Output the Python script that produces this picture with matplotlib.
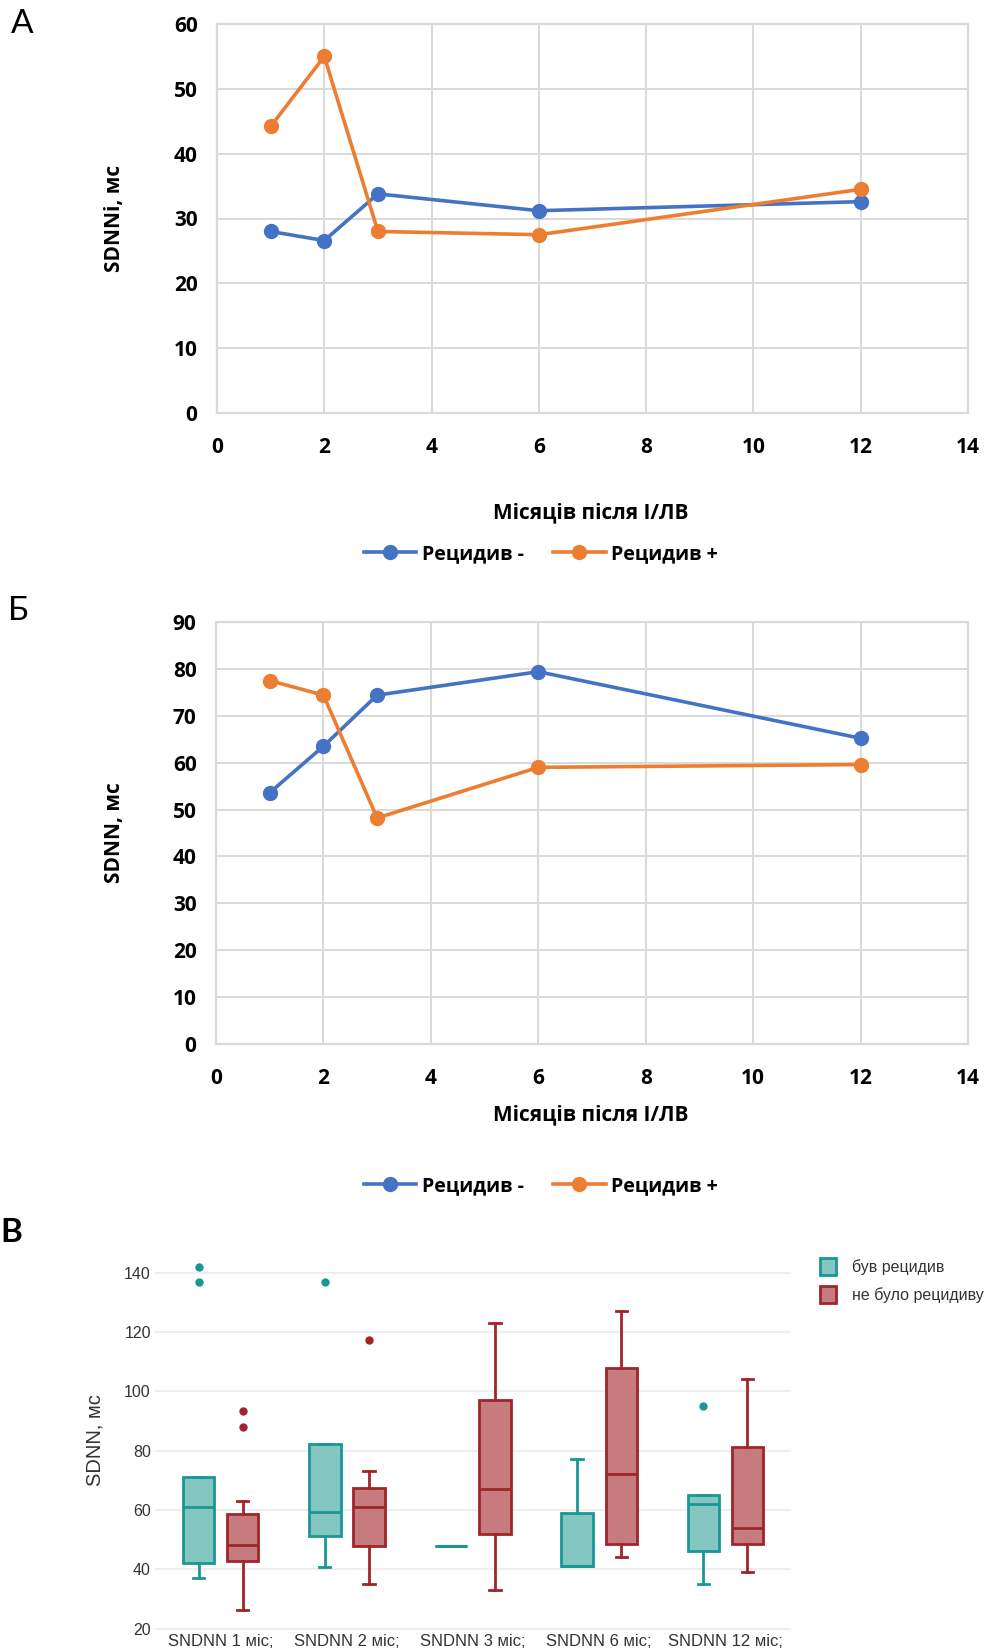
import matplotlib
matplotlib.use('Agg')
import matplotlib.pyplot as plt
from matplotlib.patches import Patch

# ---------------- data ----------------
months = [1, 2, 3, 6, 12]
sdnni_neg = [28.0, 26.6, 33.8, 31.2, 32.6]
sdnni_pos = [44.2, 55.0, 28.0, 27.5, 34.5]
sdnn_neg = [53.6, 63.5, 74.4, 79.4, 65.2]
sdnn_pos = [77.5, 74.4, 48.2, 59.0, 59.6]
series_labels = ['Рецидив -', 'Рецидив +']

box_categories = ['SNDNN 1 міс;', 'SNDNN 2 міс;', 'SNDNN 3 міс;', 'SNDNN 6 міс;', 'SNDNN 12 міс;']
box_groups = ['був рецидив', 'не було рецидиву']
relapse_whislo = [37.0, 40.9, 48.0, 41.0, 35.1]
relapse_q1 = [42.0, 51.3, 48.0, 41.0, 46.1]
relapse_med = [61.0, 59.4, 48.0, 41.2, 62.1]
relapse_q3 = [71.0, 82.2, 48.0, 59.0, 65.1]
relapse_whishi = [71.0, 82.2, 48.0, 77.1, 65.1]
relapse_fliers = [[142.0, 137.0], [137.0], [], [], [94.9]]
norelapse_whislo = [26.1, 35.0, 33.0, 44.0, 39.1]
norelapse_q1 = [42.8, 48.0, 51.9, 48.4, 48.5]
norelapse_med = [48.2, 61.0, 67.2, 72.0, 54.0]
norelapse_q3 = [58.5, 67.5, 97.0, 107.8, 81.1]
norelapse_whishi = [63.0, 73.0, 122.9, 127.1, 104.1]
norelapse_fliers = [[93.5, 87.9], [117.2], [], [], []]

# ---------------- style ----------------
BLUE = '#4472C4'
ORANGE = '#ED7D31'
GRID = '#D9D9D9'
BOLD_FONT = ['Open Sans', 'DejaVu Sans']
TEAL_EDGE = '#1A9793'
TEAL_FILL = '#84C6C1'
RED_EDGE = '#A0252A'
RED_FILL = '#C67C7F'

W, H = 987, 1650
fig = plt.figure(figsize=(W / 100, H / 100), dpi=100)


def fx(px):
    return px / W


def fy(py):
    return 1 - py / H


def line_panel(rect, neg, pos, ymax, ylabel, xlabel_y, legend_y):
    ax = fig.add_axes(rect)
    ax.plot(months, neg, color=BLUE, lw=2.6, marker='o', ms=10, label=series_labels[0], zorder=3,
            clip_on=False)
    ax.plot(months, pos, color=ORANGE, lw=2.6, marker='o', ms=10, label=series_labels[1], zorder=3,
            clip_on=False)
    ax.set_xlim(0, 14)
    ax.set_ylim(0, ymax)
    ax.set_xticks(range(0, 15, 2))
    ax.set_yticks(range(0, ymax + 1, 10))
    ax.grid(True, color=GRID, lw=1.4)
    ax.set_axisbelow(True)
    for s in ax.spines.values():
        s.set_color(GRID)
        s.set_linewidth(1.6)
    ax.tick_params(length=0, labelsize=15, pad=0)
    ax.tick_params(axis='x', pad=17)
    ax.tick_params(axis='y', pad=14)
    for lab in ax.get_xticklabels() + ax.get_yticklabels():
        lab.set_fontfamily(BOLD_FONT)
        lab.set_fontweight('bold')
    l, b, w, h = rect
    fig.text(fx(115), b + h / 2, ylabel, rotation=90, ha='center', va='center',
             fontsize=15, fontweight='bold', family=BOLD_FONT)
    fig.text(fx(591), fy(xlabel_y), 'Місяців після І/ЛВ', ha='center', va='center',
             fontsize=15, fontweight='bold', family=BOLD_FONT)
    handles, labels = ax.get_legend_handles_labels()
    fig.legend(handles, labels, loc='center', bbox_to_anchor=(fx(541), fy(legend_y)), ncol=2,
               frameon=False, handlelength=2.7, handletextpad=0.3, columnspacing=1.5,
               prop=dict(family=BOLD_FONT, weight='bold', size=14))
    return ax


axA = line_panel([fx(217), fy(413), fx(968 - 217), (413 - 24) / H], sdnni_neg, sdnni_pos, 60,
                 'SDNNi, мс', 513, 554)
axB = line_panel([fx(216), fy(1044), fx(968 - 216), (1044 - 622) / H], sdnn_neg, sdnn_pos, 90,
                 'SDNN, мс', 1115, 1186)

fig.text(fx(11), fy(24), 'A', fontsize=24, ha='left', va='center', family=['Lato', 'DejaVu Sans'])
fig.text(fx(8), fy(611), 'Б', fontsize=24, ha='left', va='center', family=['Lato', 'DejaVu Sans'])
fig.text(fx(0), fy(1232), 'В', fontsize=24, ha='left', va='center', fontweight='bold',
         family=['Lato', 'DejaVu Sans'])

# ---------------- box panel ----------------
axC = fig.add_axes([fx(155), fy(1630), fx(791 - 155), (1630 - 1255) / H])


def make_stats(wl, q1, med, q3, wh, fl):
    return [dict(whislo=a, q1=b, med=c, q3=d, whishi=e, fliers=f)
            for a, b, c, d, e, f in zip(wl, q1, med, q3, wh, fl)]


idx = list(range(len(box_categories)))
for stats, off, ec, fc in [
    (make_stats(relapse_whislo, relapse_q1, relapse_med, relapse_q3, relapse_whishi, relapse_fliers),
     -0.175, TEAL_EDGE, TEAL_FILL),
    (make_stats(norelapse_whislo, norelapse_q1, norelapse_med, norelapse_q3, norelapse_whishi,
                norelapse_fliers), 0.175, RED_EDGE, RED_FILL)]:
    axC.bxp(stats, positions=[i + off for i in idx], widths=0.25, patch_artist=True,
            capwidths=0.09, manage_ticks=False,
            boxprops=dict(facecolor=fc, edgecolor=ec, linewidth=2.0),
            medianprops=dict(color=ec, linewidth=2.0),
            whiskerprops=dict(color=ec, linewidth=2.0),
            capprops=dict(color=ec, linewidth=2.0),
            flierprops=dict(marker='o', markerfacecolor=ec, markeredgecolor=ec, markersize=5))

axC.set_xlim(-0.52, 4.52)
axC.set_ylim(19.5, 146)
axC.set_yticks(range(20, 141, 20))
axC.set_xticks(idx)
axC.set_xticklabels(box_categories)
axC.yaxis.grid(True, color='#EBEBEB', lw=1.2)
axC.set_axisbelow(True)
for s in axC.spines.values():
    s.set_visible(False)
axC.tick_params(length=0, labelsize=11.5, colors='#333333', pad=3)
axC.tick_params(axis='x', labelsize=12)
for lab in axC.get_xticklabels() + axC.get_yticklabels():
    lab.set_fontfamily(['Liberation Sans', 'DejaVu Sans'])
fig.text(fx(95), fy(1440), 'SDNN, мс', rotation=90, ha='center', va='center', fontsize=14.5,
         color='#333333', family=['Liberation Sans', 'DejaVu Sans'])

leg_handles = [Patch(facecolor=TEAL_FILL, edgecolor=TEAL_EDGE, linewidth=2),
               Patch(facecolor=RED_FILL, edgecolor=RED_EDGE, linewidth=2)]
fig.legend(leg_handles, box_groups, loc='upper left', bbox_to_anchor=(fx(820), fy(1258)),
           frameon=False, handlelength=1.0, handleheight=1.25, handletextpad=1.0, labelspacing=0.7,
           prop=dict(family=['Liberation Sans', 'DejaVu Sans'], size=11.5), labelcolor='#333333',
           borderaxespad=0, borderpad=0)

fig.savefig('out.png', dpi=100)
